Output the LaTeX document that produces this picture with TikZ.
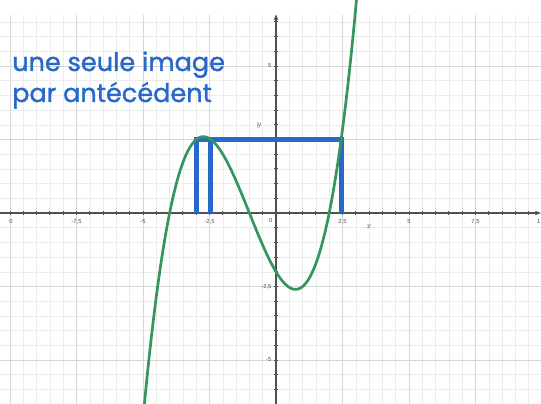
\documentclass[tikz,border=0pt]{standalone}
\usepackage{fontspec}
\setmainfont{Liberation Sans}
\newfontfamily\handfont[FakeBold=1.3]{Poppins}
\usetikzlibrary{arrows.meta, positioning}
\definecolor{curvegreen}{RGB}{50,150,94}
\definecolor{markblue}{RGB}{40,104,200}
\definecolor{gridminor}{RGB}{236,236,236}
\definecolor{gridmajor}{RGB}{215,215,215}
\definecolor{axisgray}{RGB}{80,80,80}

\begin{document}
\begin{tikzpicture}[x=0.798cm, y=0.882cm,
  minorgrid/.style={draw=gridminor, line width=0.5pt},
  majorgrid/.style={draw=gridmajor, line width=0.7pt},
  axisline/.style={draw=axisgray, line width=1.2pt, -{Stealth[length=5pt, width=4pt]}},
  tickmark/.style={draw=axisgray, line width=0.7pt},
  ticklabel/.style={font=\fontsize{5}{6}\selectfont, text=axisgray, inner sep=1pt},
  axisname/.style={font=\fontsize{7}{8}\selectfont, text=axisgray, inner sep=0pt},
  fcurve/.style={draw=curvegreen, line width=2.3pt},
  blueline/.style={draw=markblue, line width=4.2pt},
  handtext/.style={font=\handfont\fontsize{21.8}{26}\selectfont, text=markblue, inner sep=0pt}
]
  \useasboundingbox (-10.376,-6.463) rectangle (9.962,7.245);
  \clip (-10.376,-6.463) rectangle (9.962,7.245);
  \fill[white] (-10.376,-6.463) rectangle (9.962,7.245);

  % grid
  \draw[minorgrid, xstep=0.5, ystep=0.5] (-10.5,-7) grid (10.5,6.75);
  \draw[majorgrid, xstep=2.5, ystep=2.5] (-10.5,-7) grid (10.5,6.75);

  % axes
  \draw[axisline] (-10.5,0) -- (9.95,0);
  \draw[axisline] (0,-7) -- (0,6.75);
  \foreach \t in {-10,-9.5,...,9.5}
    \draw[tickmark] (\t,-0.07) -- (\t,0.07);
  \foreach \t in {-7,-6.5,...,6.5}
    \draw[tickmark] (-0.08,\t) -- (0.08,\t);

  % labels
  \foreach \v/\s [count=\i] in {-9.96/0, -7.5/{-7,5}, -5/-5, -2.5/{-2,5}, 2.5/{2,5}, 5/5, 7.5/{7,5}}
    \node[ticklabel] (xlab\i) at (\v,-0.3) {\s};
  \node[ticklabel, anchor=east, inner sep=0.3pt] (xlabend) at (9.962,-0.3) {1};
  \foreach \v/\s [count=\i] in {5/5, -2.5/{-2,5}, -5/-5}
    \node[ticklabel, anchor=east] (ylab\i) at (-0.12,\v) {\s};
  \node[ticklabel, anchor=north east] (origin) at (-0.08,-0.12) {0};
  \node[axisname] (xname) at (3.5,-0.48) {$x$};
  \node[axisname] (yname) at (-0.64,2.99) {$y$};

  % antecedents of 2.5
  \draw[blueline] (-3,0) -- (-3,2.5) -- (2.449,2.5) -- (2.449,0);
  \draw[blueline] (-2.449,0) -- (-2.449,2.5);

  % the function
  \draw[fcurve, domain=-5.1:3.1, samples=120]
    plot (\x, {0.25*(\x*\x*\x+3*\x*\x-6*\x-8)});

  \node[handtext, anchor=base west] (imgline) at (-9.925,4.83) {une seule image};
  \node[handtext, anchor=base west] (antline) at ([yshift=-0.93cm]imgline.base west) {par antécédent};
\end{tikzpicture}
\end{document}
